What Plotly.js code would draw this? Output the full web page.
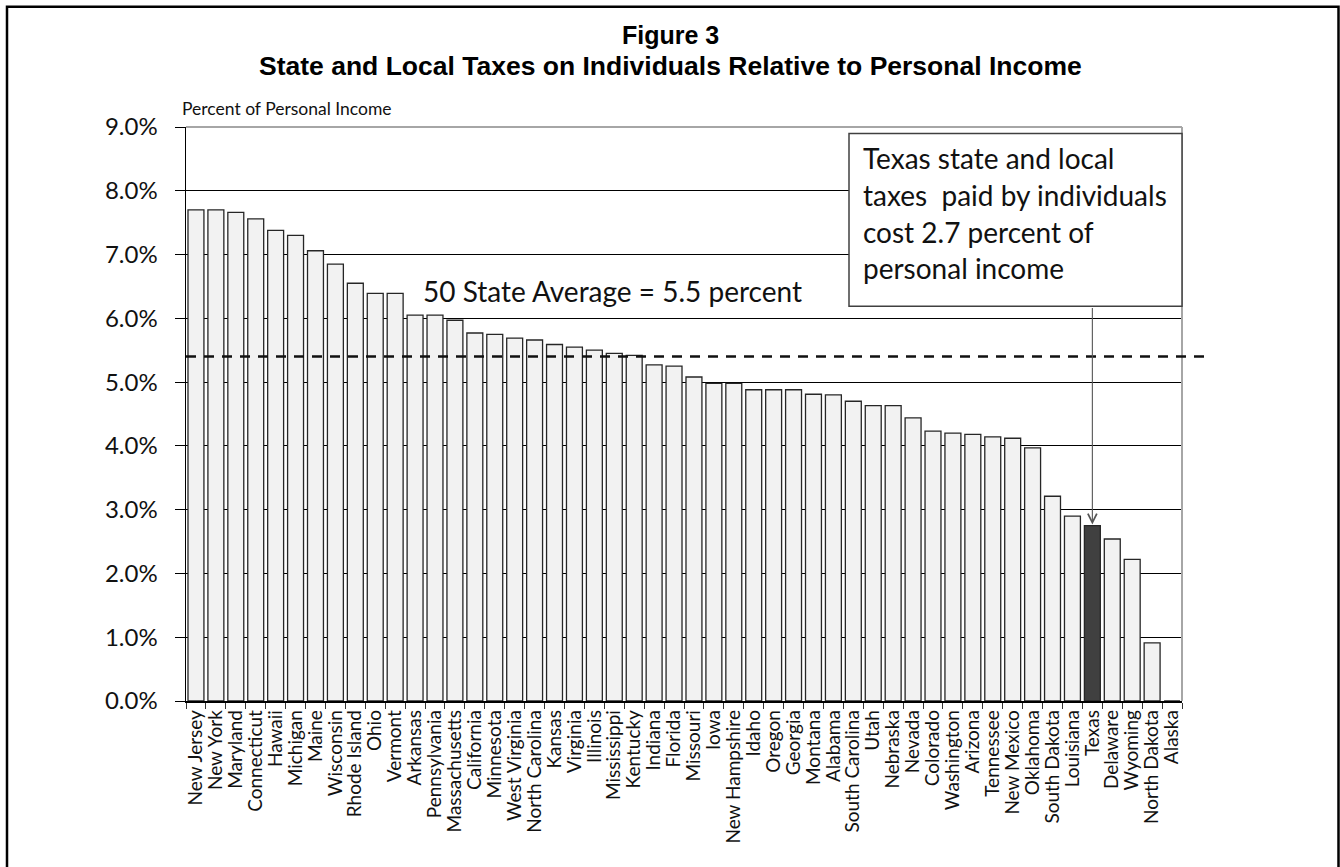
<!DOCTYPE html>
<html>
<head>
<meta charset="utf-8">
<script src="https://cdn.plot.ly/plotly-3.0.1.min.js"></script>
<style>
  html, body { margin: 0; padding: 0; background: #fff; }
  #chart { width: 1340px; height: 867px; }
</style>
</head>
<body>
<div id="chart"></div>
<script>
const states = ["New Jersey","New York","Maryland","Connecticut","Hawaii","Michigan","Maine","Wisconsin","Rhode Island","Ohio","Vermont","Arkansas","Pennsylvania","Massachusetts","California","Minnesota","West Virginia","North Carolina","Kansas","Virginia","Illinois","Mississippi","Kentucky","Indiana","Florida","Missouri","Iowa","New Hampshire","Idaho","Oregon","Georgia","Montana","Alabama","South Carolina","Utah","Nebraska","Nevada","Colorado","Washington","Arizona","Tennessee","New Mexico","Oklahoma","South Dakota","Louisiana","Texas","Delaware","Wyoming","North Dakota","Alaska"];
const taxShare = [7.70,7.70,7.66,7.56,7.38,7.30,7.06,6.85,6.55,6.39,6.39,6.05,6.05,5.97,5.77,5.75,5.69,5.66,5.59,5.55,5.50,5.45,5.42,5.27,5.25,5.08,4.98,4.98,4.88,4.88,4.88,4.81,4.80,4.70,4.63,4.63,4.44,4.23,4.20,4.18,4.14,4.12,3.97,3.21,2.90,2.75,2.54,2.22,0.91,0];
const highlightState = "Texas";
const averageLine = 5.4;
const averageLabel = "50 State Average = 5.5 percent";
const yTicks = [0,1,2,3,4,5,6,7,8,9];
const yTickLabels = ["0.0%","1.0%","2.0%","3.0%","4.0%","5.0%","6.0%","7.0%","8.0%","9.0%"];
const boxLines = ["Texas state and local","taxes  paid by individuals","cost 2.7 percent of","personal income"];
const titleLines = ["Figure 3","State and Local Taxes on Individuals Relative to Personal Income"];
const yAxisLabel = "Percent of Personal Income";

const W = 1340, H = 867;
const L = 186, R = 1182, T = 126.5, B = 701.5;
const pw = R - L, ph = B - T;
const px = x => (x - L) / pw;
const py = y => (B - y) / ph;

const barColors = states.map(s => s === highlightState ? "#404040" : "#f2f2f2");
const hiIdx = states.indexOf(highlightState);

const trace = {
  type: "bar",
  x: states,
  y: taxShare,
  marker: { color: barColors, line: { color: "#262626", width: 1.3 } },
  hoverinfo: "x+y"
};

const font = "Lato, 'Open Sans', sans-serif";
const titleFont = "'Liberation Sans', Arial, sans-serif";

const annotations = [
  { xref: "paper", yref: "paper", x: px(670), y: py(34), text: "<b>" + titleLines[0] + "</b>", showarrow: false,
    xanchor: "center", yanchor: "middle", font: { family: titleFont, size: 25, color: "#000" } },
  { xref: "paper", yref: "paper", x: px(670), y: py(65), text: "<b>" + titleLines[1] + "</b>", showarrow: false,
    xanchor: "center", yanchor: "middle", font: { family: titleFont, size: 26.5, color: "#000" } },
  { xref: "paper", yref: "paper", x: px(180), y: py(108), text: yAxisLabel, showarrow: false,
    xanchor: "left", yanchor: "middle", font: { family: font, size: 17.5, color: "#111" } },
  { xref: "paper", yref: "paper", x: px(612), y: py(291), text: averageLabel, showarrow: false,
    xanchor: "center", yanchor: "middle", font: { family: font, size: 28, color: "#111" } },
  { x: states[hiIdx], y: taxShare[hiIdx], xref: "x", yref: "y", text: "", showarrow: true,
    ax: 0, ay: -(523 - 306) - 2, axref: "pixel", ayref: "pixel",
    arrowhead: 5, arrowsize: 1.6, arrowwidth: 1.1, arrowcolor: "#555", standoff: 1 }
];
const lineYs = [158, 195, 232, 268];
boxLines.forEach((t, i) => {
  annotations.push({ xref: "paper", yref: "paper", x: px(861), y: py(lineYs[i]), text: t, showarrow: false,
    xanchor: "left", yanchor: "middle", font: { family: font, size: 28, color: "#111" } });
});

const shapes = [
  { type: "line", xref: "paper", yref: "paper", x0: 0, x1: 1, y0: 1, y1: 1, line: { color: "#a6a6a6", width: 2 }, layer: "above" },
  { type: "line", xref: "paper", yref: "paper", x0: 1, x1: 1, y0: 0, y1: 1, line: { color: "#a6a6a6", width: 2 }, layer: "above" },
  { type: "line", xref: "paper", yref: "y", x0: 0, x1: px(1211), y0: averageLine, y1: averageLine,
    line: { color: "#111", width: 2.5, dash: "10px,8px" }, layer: "above" },
  { type: "rect", xref: "paper", yref: "paper", x0: px(849), x1: px(1182), y0: py(306), y1: py(133),
    fillcolor: "#fff", line: { color: "#404040", width: 1.5 }, layer: "above" },
  { type: "rect", xref: "paper", yref: "paper", x0: px(7), x1: px(1338.5), y0: py(880), y1: py(6),
    line: { color: "#000", width: 2.5 }, fillcolor: "rgba(0,0,0,0)", layer: "above" }
];

const layout = {
  width: W, height: H,
  margin: { l: L, r: W - R, t: T, b: H - B, pad: 0 },
  paper_bgcolor: "#fff", plot_bgcolor: "#fff",
  showlegend: false,
  bargap: 0.2,
  xaxis: {
    type: "category",
    tickmode: "array", tickvals: states, ticktext: states,
    showline: true, linecolor: "#000", linewidth: 1.5,
    ticks: "outside", tickson: "boundaries", ticklen: 6, tickcolor: "#333", tickwidth: 1,
    tickangle: -90, tickfont: { family: font, size: 19, color: "#111" },
    showgrid: false, fixedrange: true
  },
  yaxis: {
    range: [0, 9], tickmode: "array", tickvals: yTicks, ticktext: yTickLabels,
    showline: true, linecolor: "#000", linewidth: 1.5,
    ticks: "outside", ticklen: 10, tickcolor: "#000", tickwidth: 1,
    ticklabelstandoff: 12,
    showgrid: true, gridcolor: "#000", gridwidth: 1, zeroline: false,
    tickfont: { family: font, size: 24, color: "#111" },
    fixedrange: true
  },
  annotations: annotations,
  shapes: shapes
};

Plotly.newPlot("chart", [trace], layout, { displayModeBar: false, staticPlot: true });
</script>
</body>
</html>
